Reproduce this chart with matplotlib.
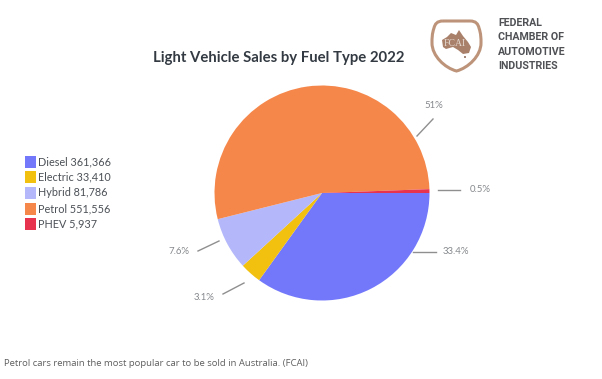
import matplotlib
matplotlib.use("Agg")
import matplotlib.pyplot as plt
from matplotlib.patches import Rectangle, PathPatch, Polygon, Circle
from matplotlib.path import Path

# chart data
fuel_types = ["Diesel", "Electric", "Hybrid", "Petrol", "PHEV"]
sales = [361366, 33410, 81786, 551556, 5937]
sales_labels = ["361,366", "33,410", "81,786", "551,556", "5,937"]
pct_labels = ["33.4%", "3.1%", "7.6%", "51%", "0.5%"]
colors = ["#7378fb", "#f2c00f", "#b4b8fa", "#f5874b", "#e8334f"]

H = 379


def py(y):
    # y measured from the top of the image
    return H - y


fig = plt.figure(figsize=(6.02, 3.79), dpi=100)
ax = fig.add_axes([0, 0, 1, 1])

ax.pie(sales, colors=colors, center=(322, py(193)), radius=107.5,
       startangle=0, counterclock=False, frame=True)
ax.set_xlim(0, 602)
ax.set_ylim(0, H)
ax.set_aspect("auto")
ax.axis("off")

ax.text(279, py(58), "Light Vehicle Sales by Fuel Type 2022", family="Lato",
        weight="bold", fontsize=10.75, color="#333a42", ha="center", va="center")

# legend
for i, (name, lab, col) in enumerate(zip(fuel_types, sales_labels, colors)):
    yc = 161.7 + i * 15.6
    ax.add_patch(Rectangle((25, py(yc + 6)), 11, 12, color=col, lw=0))
    ax.text(38, py(yc), f"{name} {lab}", family="Lato", fontsize=7.8,
            color="#4c5157", ha="left", va="center")

# leader lines and percentage labels
leaders = [
    ((413, 252), (436, 252), (443, 252), "left"),
    ((244, 283), (223, 294), (194, 297), "left"),
    ((219, 241), (198, 251), (168, 251), "left"),
    ((433, 119), (417, 136), (434, 106), "center"),
    ((438, 190), (460, 190), (470, 190), "left"),
]
for i, (p0, p1, tp, ha) in enumerate(leaders):
    ax.plot([p0[0], p1[0]], [py(p0[1]), py(p1[1])], color="#8f8f8f", lw=1.0)
    ax.text(tp[0], py(tp[1]), pct_labels[i], family="Lato", fontsize=6.9,
            color="#85888c", ha=ha, va="center")

# logo shield
shield = [(443, 21), (470, 21), (476, 21), (478, 24), (479, 28), (481, 34), (481, 38), (481, 43),
          (481, 56), (468, 68), (456.5, 71), (445, 68), (432, 56), (432, 43),
          (432, 38), (432, 34), (434, 28), (435, 24), (437, 21), (443, 21)]
codes = [Path.MOVETO, Path.LINETO] + [Path.CURVE4] * 18
ax.add_patch(PathPatch(Path([(x, py(y)) for x, y in shield], codes), fc="white",
                       ec="#bd9479", lw=2.2))
oz = [(442, 40), (447, 37), (451, 33), (456, 35), (459, 30), (463, 36), (468, 42),
      (471, 47), (469, 53), (463, 54), (458, 50), (453, 47), (446, 49), (443, 47)]
ax.add_patch(Polygon([(x, py(y)) for x, y in oz], fc="#a9806a", ec="none"))
ax.add_patch(Circle((465, py(57)), 1, fc="#8a6a58", ec="none"))
ax.text(455, py(43), "FCAI", family="Liberation Serif", fontsize=7, color="#e4d8d0",
        ha="center", va="center")

for i, line in enumerate(["FEDERAL", "CHAMBER OF", "AUTOMOTIVE", "INDUSTRIES"]):
    ax.text(498, py(23 + i * 14.3), line, family="Roboto", weight="bold", fontsize=7.7,
            color="#4f5155", ha="left", va="center")

ax.text(4, py(363), "Petrol cars remain the most popular car to be sold in Australia. (FCAI)",
        family="Open Sans", fontsize=6.8, color="#5f5f5f", ha="left", va="center")

fig.savefig("out.png", dpi=100)
